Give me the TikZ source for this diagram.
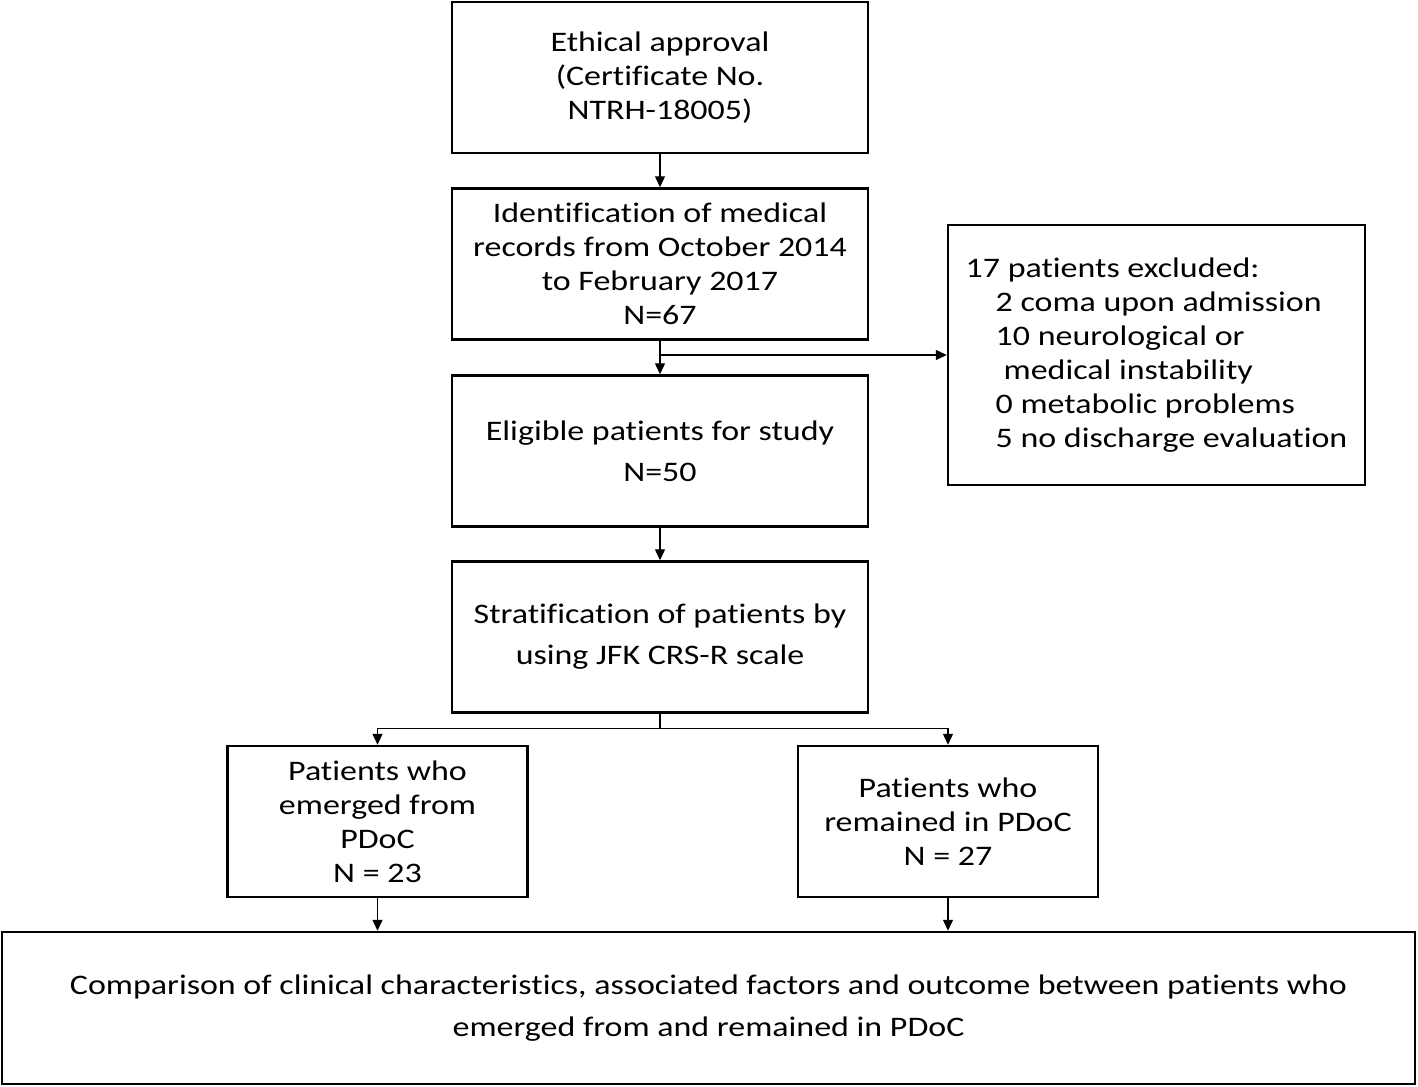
\documentclass[tikz,border=0pt]{standalone}
\usepackage{fontspec}
\setmainfont{Carlito}[FakeStretch=1.2, Ligatures={NoCommon}]
\usepackage{tikz}
\usetikzlibrary{arrows.meta}
\tikzset{
    flow-box/.style = {draw=black, fill=white, line width=1.4pt, rectangle, align=center, inner sep=2pt,
        font=\fontsize{16.1pt}{19.3pt}\selectfont},
    main-box/.style = {flow-box, minimum width=8.32cm, minimum height=3.02cm},
    side-box/.style = {flow-box, minimum width=6cm, minimum height=3.02cm},
    flow-arrow/.style = {line width=0.8pt, -{Triangle[length=0.22cm,width=0.2cm]}},
}

\begin{document}
\begin{tikzpicture}
\useasboundingbox (0,0) rectangle (28.36,-21.74);
\node [main-box] (ethics) at (13.2,-1.55) {Ethical approval\\(Certificate No.\\NTRH-18005)};
\node [main-box] (records) at (13.2,-5.28) {Identification of medical\\records from October 2014\\to February 2017\\N=67};
\node [main-box] (eligible) at (13.2,-9.02) {Eligible patients for study\\[4pt]N=50};
\node [main-box] (strat) at (13.2,-12.74) {Stratification of patients by\\[4pt]using JFK CRS-R scale};
\node [flow-box, minimum width=8.34cm, minimum height=5.2cm, align=left] (excl) at (23.13,-7.10)
    {17 patients excluded:\\
    \hspace*{0.6cm}2 coma upon admission\\
    \hspace*{0.6cm}10 neurological or\\
    \hspace*{0.76cm}medical instability\\
    \hspace*{0.6cm}0 metabolic problems\\
    \hspace*{0.6cm}5 no discharge evaluation};
\node [side-box] (emerged) at (7.55,-16.43) {Patients who\\emerged from\\PDoC\\N = 23};
\node [side-box] (remained) at (18.96,-16.43) {Patients who\\remained in PDoC\\N = 27};
\node [flow-box, minimum width=28.26cm, minimum height=3.04cm] (compare) at (14.17,-20.16)
    {Comparison of clinical characteristics, associated factors and outcome between patients who\\[5pt]emerged from and remained in PDoC};

\draw [flow-arrow] (ethics) -- (records);
\draw [flow-arrow] (records) -- (eligible);
\draw [flow-arrow] (records.south |- excl.west) -- (excl.west);
\draw [flow-arrow] (eligible) -- (strat);
\coordinate (fork) at ([yshift=-0.3cm]strat.south);
\draw [line width=0.8pt] (strat.south) -- (fork);
\draw [flow-arrow] (fork) -| (emerged.north);
\draw [flow-arrow] (fork) -| (remained.north);
\draw [flow-arrow] (emerged.south) -- (emerged.south |- compare.north);
\draw [flow-arrow] (remained.south) -- (remained.south |- compare.north);
\end{tikzpicture}
\end{document}
